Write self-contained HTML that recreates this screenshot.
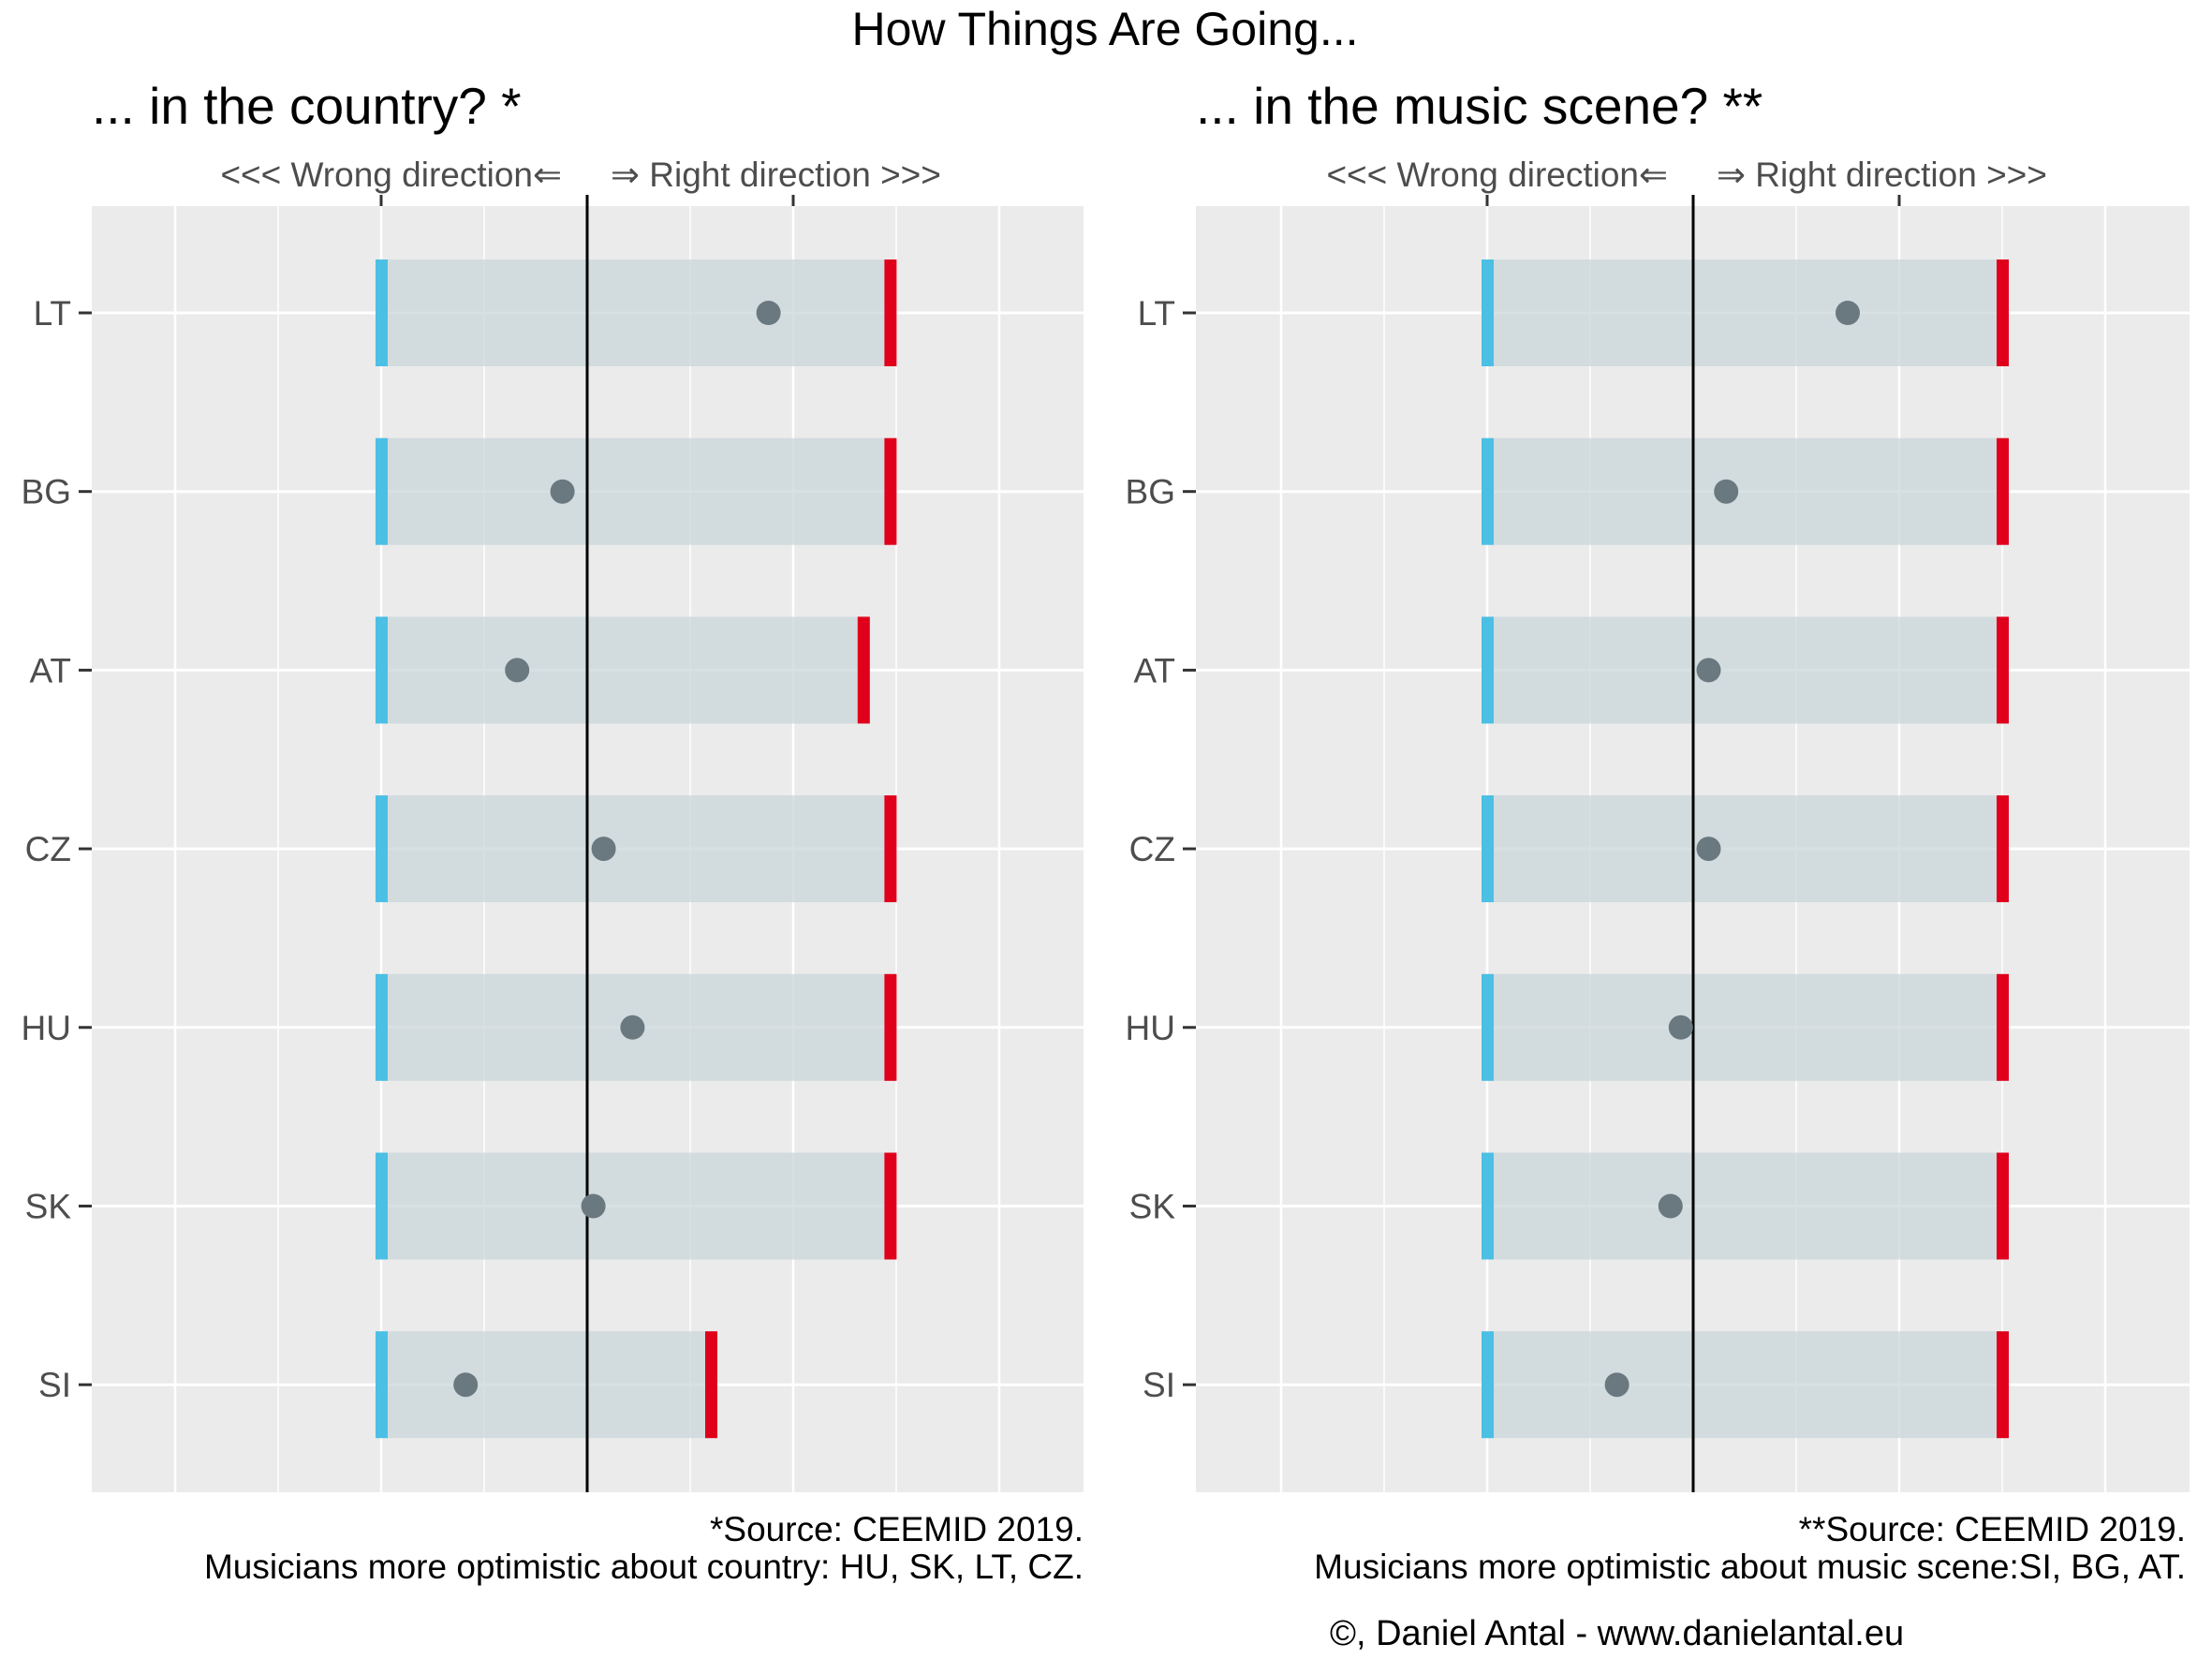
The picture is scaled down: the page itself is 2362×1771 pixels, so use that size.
<!DOCTYPE html>
<html><head><meta charset="utf-8"><style>
html,body{margin:0;padding:0;background:#fff}
svg{display:block;font-family:"Liberation Sans",sans-serif}
</style></head><body>
<svg id="chart" width="2362" height="1771" viewBox="0 0 2362 1771" xmlns="http://www.w3.org/2000/svg">
<text x="1180" y="48" font-size="50" text-anchor="middle" fill="#000">How Things Are Going...</text>
<g id="p1"></g>
<g id="p2"></g>
<text x="1157" y="1645" font-size="37" text-anchor="end">*Source: CEEMID 2019.</text>
<text x="1157" y="1685" font-size="37" text-anchor="end">Musicians more optimistic about country: HU, SK, LT, CZ.</text>
<text x="2334" y="1645" font-size="37" text-anchor="end">**Source: CEEMID 2019.</text>
<text x="2334" y="1685" font-size="37" text-anchor="end">Musicians more optimistic about music scene:SI, BG, AT.</text>
<text x="1420" y="1756" font-size="38">©, Daniel Antal - www.danielantal.eu</text>
</svg>
<script>
const categories = ["LT","BG","AT","CZ","HU","SK","SI"];
const countryLow = [-1,-1,-1,-1,-1,-1,-1];
const countryHigh = [1.47,1.47,1.34,1.47,1.47,1.47,0.60];
const countryValue = [0.88,-0.12,-0.34,0.08,0.22,0.03,-0.59];
const musicLow = [-1,-1,-1,-1,-1,-1,-1];
const musicHigh = [1.5,1.5,1.5,1.5,1.5,1.5,1.5];
const musicValue = [0.75,0.16,0.075,0.075,-0.06,-0.11,-0.37];
const gridValues = [-2,-1.5,-1,-0.5,0,0.5,1,1.5,2];
const topTicks = [-1,1];

const NS="http://www.w3.org/2000/svg";
function mk(tag, attrs, parent){const e=document.createElementNS(NS,tag);for(const k in attrs)e.setAttribute(k,attrs[k]);parent.appendChild(e);return e;}
const TOP=220, BOT=1593, ROW0=334, ROWSTEP=190.7, HALF=57, UNIT=220;

function panel(g, left, right, zero, subtitle, low, high, val, prefix){
  const xs = v => zero + v*UNIT;
  const ys = i => ROW0 + i*ROWSTEP;
  const st = mk('text',{x:left, y:132,'font-size':55,fill:'#000'},g);
  st.textContent = subtitle;
  
  
  const bg = mk('rect',{x:left,y:TOP,width:right-left,height:BOT-TOP,fill:'#ebebeb'},g);
  
  
  gridValues.forEach(v=>{
    const l = mk('line',{x1:xs(v),x2:xs(v),y1:TOP,y2:BOT,stroke:'#fff','stroke-width':(Math.abs(v)%1===0)?2.5:1.5},g);
    
    
  });
  categories.forEach((c,i)=>{
    const l = mk('line',{x1:left,x2:right,y1:ys(i),y2:ys(i),stroke:'#fff','stroke-width':3},g);
    
    
  });
  categories.forEach((c,i)=>{
    const y=ys(i);
    const r = mk('rect',{x:xs(low[i]),y:y-HALF,width:xs(high[i])-xs(low[i]),height:2*HALF,fill:'#c9d5da','fill-opacity':0.75},g);
    
    
    const b = mk('rect',{x:xs(low[i])-6,y:y-HALF,width:13,height:2*HALF,fill:'#4bbfe4'},g);
    
    
    const h = mk('rect',{x:xs(high[i])-6,y:y-HALF,width:13,height:2*HALF,fill:'#e0001b'},g);
    
    
    const t = mk('line',{x1:left-14,x2:left,y1:y,y2:y,stroke:'#333','stroke-width':3},g);
    
    
    const lb = mk('text',{x:left-22,y:y+13,'font-size':37,fill:'#4d4d4d','text-anchor':'end'},g);
    lb.textContent=c;
    
    
  });
  const z = mk('line',{x1:xs(0),x2:xs(0),y1:208,y2:BOT,stroke:'#000','stroke-width':3},g);
  
  
  categories.forEach((c,i)=>{
    const d = mk('circle',{cx:xs(val[i]),cy:ys(i),r:13,fill:'#6a7880'},g);
    
    
  });
  topTicks.forEach(v=>{
    const t = mk('line',{x1:xs(v),x2:xs(v),y1:208,y2:TOP,stroke:'#333','stroke-width':3},g);
    
    
  });
  const w = mk('text',{x:xs(0)-27,y:199,'font-size':37,fill:'#4d4d4d','text-anchor':'end'},g);
  w.textContent='<<< Wrong direction⇐';
  
  
  const rt = mk('text',{x:xs(0)+25,y:199,'font-size':37,fill:'#4d4d4d'},g);
  rt.textContent='⇒ Right direction >>>';
  
  
}
panel(document.getElementById('p1'), 98, 1157, 627, '... in the country? *', countryLow, countryHigh, countryValue, 'country');
panel(document.getElementById('p2'), 1277, 2338, 1808, '... in the music scene? **', musicLow, musicHigh, musicValue, 'music');
</script>
</body></html>
